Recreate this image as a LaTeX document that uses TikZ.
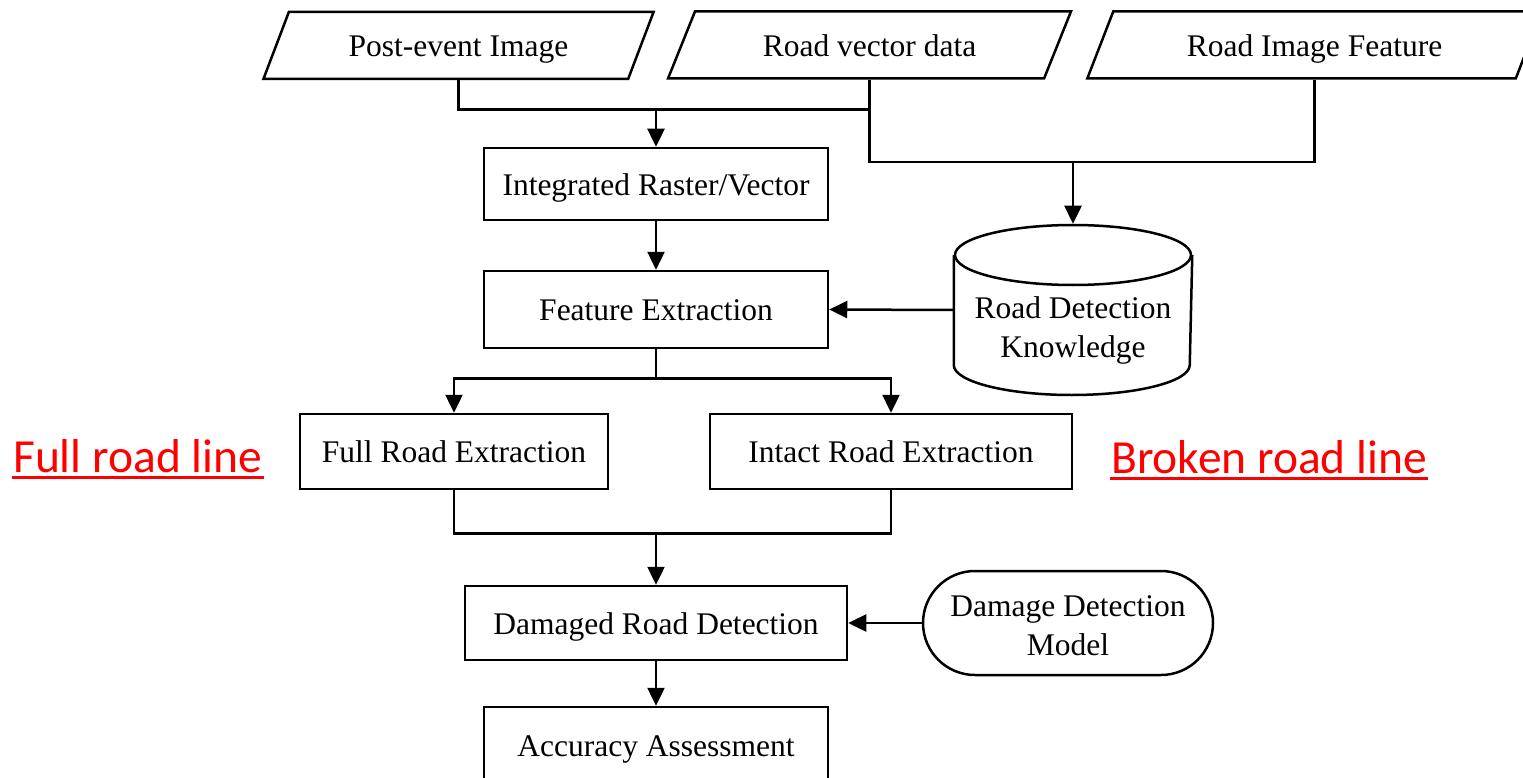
\documentclass[tikz,border=0pt]{standalone}
\usepackage{fontspec}
\setmainfont{Liberation Serif}
\newfontfamily\calibrifont{Carlito}
\usetikzlibrary{shapes.geometric,shapes.misc,arrows.meta}
\begin{document}
\begin{tikzpicture}[x=1pt,y=-1pt,line width=2.5pt,
  txt/.style={font=\fontsize{31.5}{39}\selectfont, align=center, inner sep=0pt},
  one/.style={txt, text height=26.8pt, text depth=4.7pt},
  box/.style={one, draw, rectangle},
  para/.style={one, draw, trapezium, trapezium left angle=62.4, trapezium right angle=117.6,
               trapezium stretches=true, minimum height=67},
  term/.style={draw, rounded rectangle, inner sep=0pt},
  red label/.style={font=\calibrifont\fontsize{47.5}{57}\selectfont, text=red, inner sep=0pt, anchor=base west},
  arr/.style={-{Triangle[length=18pt,width=17pt]}}]
\useasboundingbox (0,0) rectangle (1523,778);
\clip (0,0) rectangle (1523,778);

% inputs
\node[para, minimum width=391] (p1) at (458.5,45.5) {Post-event Image};
\node[para, minimum width=403] (p2) at (869.5,45) {Road vector data};
\node[para, minimum width=455] (p3) at (1314.5,45) {Road Image Feature};

% process boxes
\node[box, minimum width=344, minimum height=72] (irv) at (656,184) {Integrated Raster/Vector};
\node[box, minimum width=344, minimum height=77] (fe) at (656,309.5) {Feature Extraction};
\node[box, minimum width=308, minimum height=75] (fre) at (454,451.5) {Full Road Extraction};
\node[box, minimum width=362, minimum height=75] (ire) at (891,451.5) {Intact Road Extraction};
\node[box, minimum width=382, minimum height=74] (drd) at (656,623) {Damaged Road Detection};
\node[box, minimum width=344, minimum height=76] (aa) at (656,745) {Accuracy Assessment};

% knowledge base (cylinder)
\node[minimum width=236, minimum height=170, inner sep=0pt] (kb) at (1073,310) {};
\draw (kb.west |- 0,255) -- (kb.west |- 0,365)
      arc[start angle=180, end angle=360, x radius=118pt, y radius=30pt]
      -- (kb.east |- 0,255);
\draw (1073,255) ellipse[x radius=118pt, y radius=30pt];
\node[txt] (kbt) at ([yshift=-20pt]kb.center) {Road Detection\\Knowledge};

% model (terminal)
\node[term, minimum width=290, minimum height=104] (ddm) at (1068,623) {};
\node[txt] (ddmt) at ([yshift=-2.5pt]ddm.center) {Damage Detection\\Model};

% red labels
\node[red label] (fl) at (12,472) {Full road line};
\node[red label] (bl) at (1110,473) {Broken road line};
\draw[red, line width=3pt] ([yshift=-5pt]fl.base west) -- ([yshift=-5pt]fl.base east);
\draw[red, line width=3pt] ([yshift=-5pt]bl.base west) -- ([yshift=-5pt]bl.base east);

% connectors
\draw (p1.south) -- ++(0,29) coordinate (h1) -| (p2.south);
\draw[arr] (h1 -| irv.north) -- (irv.north);
\draw (p2.south) -- ++(0,82) coordinate (h2) -| (p3.south);
\draw[arr] (h2 -| kb.north) -- (kb.north);
\draw[arr] (irv.south) -- (fe.north);
\draw[arr] (kb.west) -- (fe.east);
\draw (fe.south) -- ++(0,29) coordinate (h3);
\draw[arr] (h3) -| (fre.north);
\draw[arr] (h3) -| (ire.north);
\draw (fre.south) -- ++(0,43) coordinate (h4) -| (ire.south);
\draw[arr] (h4 -| drd.north) -- (drd.north);
\draw[arr] (ddm.west) -- (drd.east);
\draw[arr] (drd.south) -- (aa.north);
\end{tikzpicture}
\end{document}
